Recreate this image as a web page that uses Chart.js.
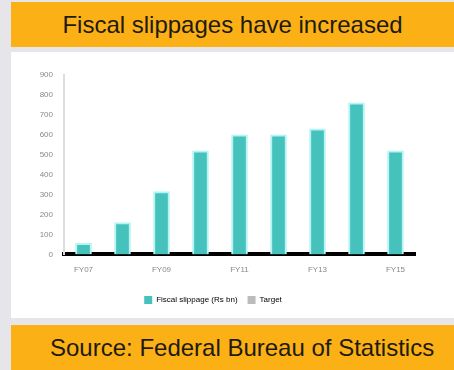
<!DOCTYPE html>
<html>
<head>
<meta charset="utf-8">
<script src="https://cdn.jsdelivr.net/npm/chart.js@4"></script>
<style>
  html, body { margin: 0; padding: 0; }
  body { width: 454px; height: 370px; background: #e6e6ea; position: relative; overflow: hidden;
         font-family: "Liberation Sans", Arial, sans-serif; }
  .bar { position: absolute; left: 11px; width: 443px; height: 45px; background: #fbb116;
         color: #1e1a10; font-size: 24px; line-height: 45px; }
  #title { top: 2px; text-align: center; }
  #source { top: 325px; text-indent: 39px; }
  #panel { position: absolute; left: 11px; top: 52px; width: 443px; height: 266px; background: #fff; }
</style>
</head>
<body>
<div class="bar" id="title">Fiscal slippages have increased</div>
<div id="panel"><canvas id="myChart" width="443" height="266"></canvas></div>
<div class="bar" id="source">Source: Federal Bureau of Statistics</div>
<script>
// dados (valores aproximados)
var categories = ['FY07', 'FY08', 'FY09', 'FY10', 'FY11', 'FY12', 'FY13', 'FY14', 'FY15'];
var slippageValues = [55, 160, 315, 520, 600, 600, 630, 760, 520];
var yTicks = [0, 100, 200, 300, 400, 500, 600, 700, 800, 900];
var legendLabels = ['Fiscal slippage (Rs bn)', 'Target'];

document.addEventListener("DOMContentLoaded", function() {
    var ctx = document.getElementById('myChart').getContext('2d');

    var myChart = new Chart(ctx, {
        type: 'bar',
        data: {
            labels: categories,
            datasets: [{
                label: legendLabels[0],
                data: slippageValues,
                backgroundColor: '#45c2bc',
                borderColor: '#b4f4f4',
                borderWidth: { left: 2, right: 2, top: 2, bottom: 0 },
                borderSkipped: false,
                barThickness: 16
            }]
        },
        options: {
            responsive: false,
            animation: false,
            layout: { padding: { top: 23, right: 39, left: 0, bottom: 4 } },
            plugins: {
                legend: {
                    position: 'bottom',
                    labels: {
                        boxWidth: 8, boxHeight: 8, color: '#555',
                        font: { size: 8 },
                        generateLabels: function(chart) {
                            return [
                                { text: legendLabels[0], fillStyle: '#45c2bc', strokeStyle: '#45c2bc', lineWidth: 0, datasetIndex: 0 },
                                { text: legendLabels[1], fillStyle: '#bbbbbb', strokeStyle: '#bbbbbb', lineWidth: 0, datasetIndex: 1 }
                            ];
                        }
                    }
                },
                tooltip: { enabled: false }
            },
            scales: {
                x: {
                    afterFit: function(scale) { scale.height += 8; },
                    grid: { display: false },
                    border: { color: '#000', width: 4 },
                    ticks: { color: '#888', font: { size: 8 }, autoSkip: false, maxRotation: 0,
                        callback: function(v, i) { return i % 2 === 0 ? categories[i] : ''; } }
                },
                y: {
                    min: yTicks[0],
                    max: yTicks[yTicks.length - 1],
                    afterFit: function(scale) { scale.width = 53; },
                    afterBuildTicks: function(scale) { scale.ticks = yTicks.map(function(v) { return { value: v }; }); },
                    grid: { display: false },
                    border: { color: '#ddd', width: 2 },
                    ticks: { color: '#888', font: { size: 8 } }
                }
            }
        }
    });
});
</script>
</body>
</html>
